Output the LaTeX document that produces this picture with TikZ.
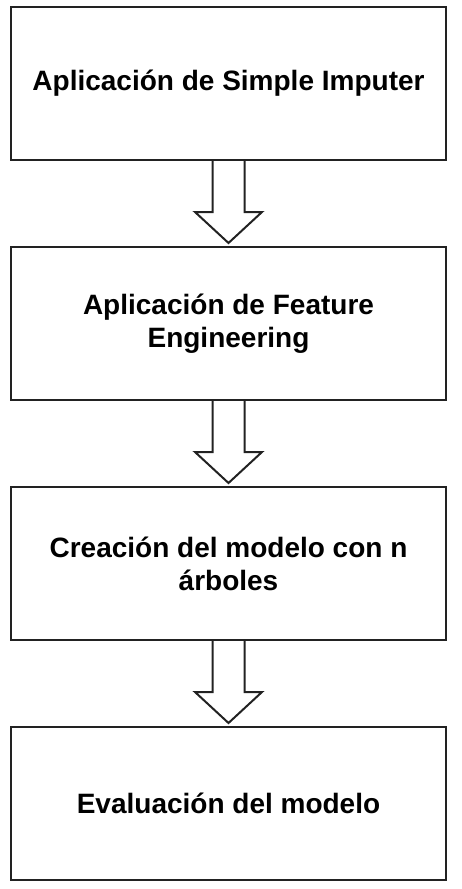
\documentclass[tikz,border=0pt]{standalone}
\usepackage{fontspec}
\setmainfont{Liberation Sans}
\usepackage{tikz}
\usetikzlibrary{positioning,calc}
\definecolor{borde}{HTML}{222222}
\newcommand{\flecha}[2]{%
  \draw[flecha] ($(#1.south)+(-16,0)$) -- ++(0,51) -- ++(-17.5,0)
    -- ($(#2.north)+(0,-3)$) -- ($(#1.south)+(33.5,51)$) -- ++(-17.5,0) -- ++(0,-51);}

\begin{document}
\begin{tikzpicture}[x=0.75pt,y=-0.75pt,node distance=63.75pt,
  caja/.style={draw=borde,line width=1.5pt,minimum width=326.25pt,minimum height=114.75pt,inner sep=0pt,align=center,font=\bfseries\fontsize{21pt}{24.75pt}\selectfont},
  flecha/.style={draw=borde,line width=1.5pt,line join=miter}]
\useasboundingbox (0,0) rectangle (461,889);
\node[caja] (imputer) at (228.5,83.5) {Aplicación de Simple Imputer};
\node[caja,below=of imputer] (feature) {Aplicación de Feature\\Engineering};
\node[caja,below=of feature] (modelo) {Creación del modelo con n\\árboles};
\node[caja,below=of modelo] (evaluacion) {Evaluación del modelo};
\flecha{imputer}{feature}
\flecha{feature}{modelo}
\flecha{modelo}{evaluacion}
\end{tikzpicture}
\end{document}
